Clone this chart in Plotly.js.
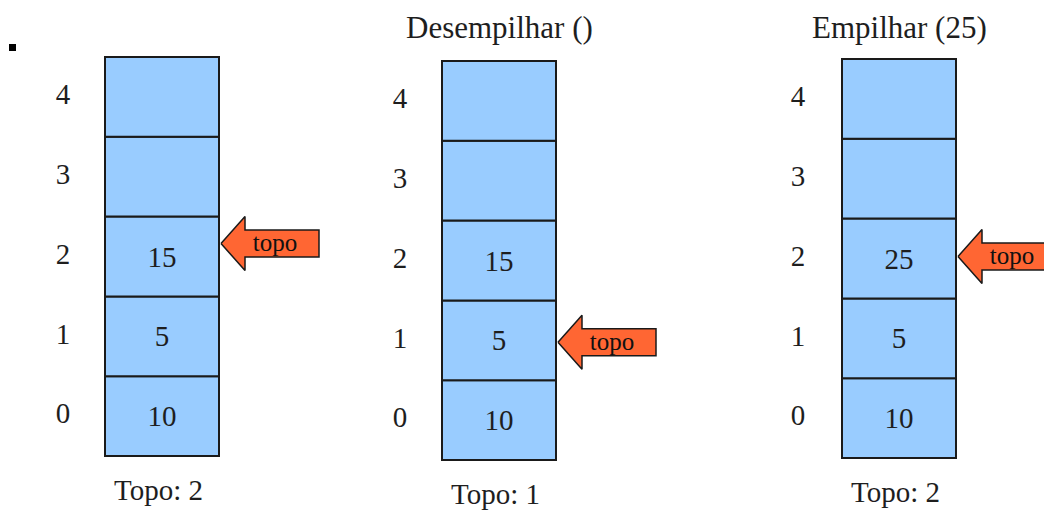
<!DOCTYPE html>
<html>
<head>
<meta charset="utf-8">
<script src="https://cdn.plot.ly/plotly-3.0.1.min.js"></script>
<style>html,body{margin:0;padding:0;background:#fff;}#chart{width:1044px;height:512px;}</style>
</head>
<body>
<div id="chart"></div>
<script>
// ---- data ----
const slots = [0, 1, 2, 3, 4];
const stackTitles = ['', 'Desempilhar ()', 'Empilhar (25)'];
const stackValues = [
  ['10', '5', '15', '', ''],
  ['10', '5', '15', '', ''],
  ['10', '5', '25', '', '']
];
const topIndex = [2, 1, 2];
const arrowLabel = 'topo';
const topLabelPrefix = 'Topo: ';

// ---- layout constants (pixels) ----
const W = 1044, H = 512;
const PX = 79.8;                 // pixels per slot
const baseYpx = 458;             // pixel of slot 0 bottom (reference)
const yMin = -(H - baseYpx) / PX;
const yMax = baseYpx / PX;
const stackCx = [162, 499, 899];
const stackW = 114;
const stackOffPx = [2, -2, 0];    // bottom shift (px, up positive)
const labelX = [63, 400, 798];
const arrowShiftPx = [13, -2, 2];  // arrow center shift (px, up positive)
const titleYpx = [27, 27, 27];
const bottomYpx = [490, 494, 492];
const FONT = 'Liberation Serif, Times New Roman, serif';
const TXT = '#1e1e1e';

const traces = [];
const annotations = [];

stackValues.forEach((vals, s) => {
  const off = stackOffPx[s] / PX;
  traces.push({
    type: 'bar',
    x: slots.map(() => stackCx[s]),
    y: slots.map(() => 1),
    base: slots.map(i => i + off),
    width: slots.map(() => stackW),
    text: vals,
    textposition: 'inside',
    insidetextanchor: 'middle',
    textangle: 0,
    constraintext: 'none',
    textfont: {family: FONT, size: 29, color: TXT},
    marker: {color: '#99ccff', line: {color: '#1a1a1a', width: 2}},
    hoverinfo: 'skip',
    showlegend: false
  });
  // index labels
  traces.push({
    type: 'scatter', mode: 'text',
    x: slots.map(() => labelX[s]),
    y: slots.map(i => i + 0.5 + off),
    text: slots.map(String),
    textposition: 'middle center',
    textfont: {family: FONT, size: 29, color: TXT},
    hoverinfo: 'skip', showlegend: false, cliponaxis: false
  });
  // arrow
  const tx = stackCx[s] + stackW / 2 + 2;
  const yc = topIndex[s] + 0.5 + off + arrowShiftPx[s] / PX;
  const hh = 27 / PX, sh = 13.5 / PX, hl = 24, L = 98;
  traces.push({
    type: 'scatter', mode: 'lines',
    x: [tx, tx + hl, tx + hl, tx + L, tx + L, tx + hl, tx + hl, tx],
    y: [yc, yc + hh, yc + sh, yc + sh, yc - sh, yc - sh, yc - hh, yc],
    fill: 'toself', fillcolor: '#ff6633',
    line: {color: '#1a1a1a', width: 1.5},
    hoverinfo: 'skip', showlegend: false
  });
  traces.push({
    type: 'scatter', mode: 'text',
    x: [tx + 54], y: [yc - 1 / PX],
    text: [arrowLabel],
    textposition: 'middle center',
    textfont: {family: FONT, size: 25, color: '#111'},
    hoverinfo: 'skip', showlegend: false
  });
  if (stackTitles[s]) {
    annotations.push({
      xref: 'x', yref: 'paper', x: stackCx[s], y: 1 - titleYpx[s] / H,
      xanchor: 'center', yanchor: 'middle', showarrow: false,
      text: stackTitles[s], font: {family: FONT, size: 31, color: TXT}
    });
  }
  annotations.push({
    xref: 'x', yref: 'paper', x: stackCx[s] - 4, y: 1 - bottomYpx[s] / H,
    xanchor: 'center', yanchor: 'middle', showarrow: false,
    text: topLabelPrefix + topIndex[s], font: {family: FONT, size: 29, color: TXT}
  });
});

const layout = {
  width: W, height: H,
  margin: {l: 0, r: 0, t: 0, b: 0},
  paper_bgcolor: '#ffffff', plot_bgcolor: '#ffffff',
  barmode: 'overlay',
  xaxis: {range: [0, W], visible: false, fixedrange: true},
  yaxis: {range: [yMin, yMax], visible: false, fixedrange: true},
  showlegend: false,
  annotations: annotations,
  shapes: [{type: 'rect', xref: 'x', yref: 'paper', x0: 9, x1: 16,
            y0: 1 - 51 / H, y1: 1 - 44 / H, fillcolor: '#000', line: {width: 0}}]
};

Plotly.newPlot('chart', traces, layout, {staticPlot: true, displayModeBar: false});
</script>
</body>
</html>
